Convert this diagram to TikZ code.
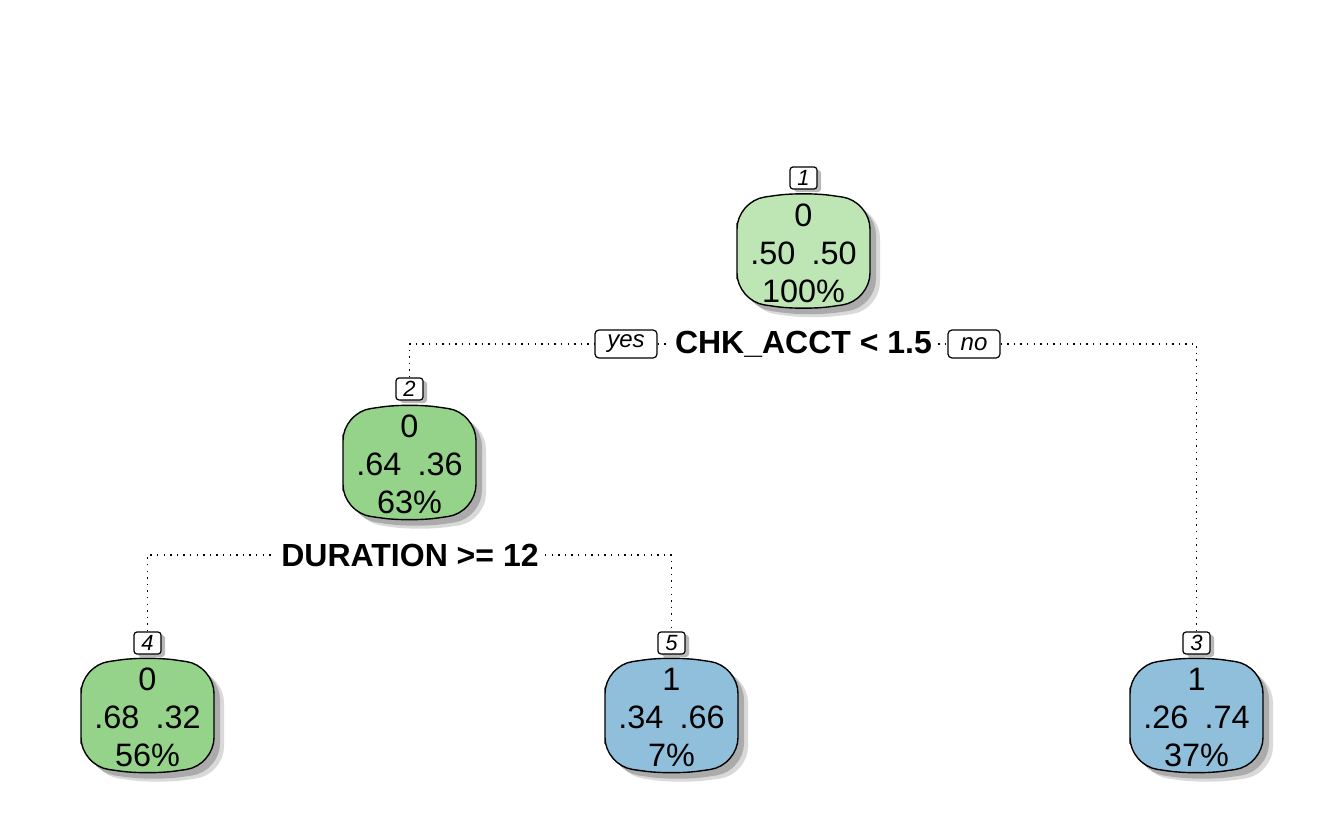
\documentclass[tikz,border=0pt]{standalone}
\usepackage{fontspec}
\setmainfont{Liberation Sans}
\usetikzlibrary{shadows}

\definecolor{rootgreen}{HTML}{BEE6B5}
\definecolor{leafgreen}{HTML}{94D389}
\definecolor{leafblue}{HTML}{90BFDB}

% outline of one tree box, centred at (0,0), in pixel units
\newcommand{\barrel}{(-66.5,0) -- (-66.5,-50) -- (0,-59.5) -- (66.5,-50) -- (66.5,50) -- (0,59.5) -- (-66.5,50) -- cycle}
\newcommand{\treebox}[3]{%
\begin{scope}[shift={(#1,#2)}]
\fill[black!15, shift={(10,9)}, rounded corners=14pt] \barrel;
\fill[black!33, shift={(6,6)}, rounded corners=14pt] \barrel;
\filldraw[fill=#3, draw=black, line width=0.7pt, rounded corners=14pt] \barrel;
\end{scope}}

\begin{document}
\begin{tikzpicture}[x=0.5pt, y=-0.5pt,
 every text node part/.style={align=center},
boxtext/.style={inner sep=0pt, font=\fontsize{16.2}{19}\selectfont},
numbox/.style={rectangle, draw=black, fill=white, rounded corners=1.5pt, inner sep=0pt, minimum width=13.5pt, minimum height=11pt, line width=0.6pt, font=\fontsize{11}{12}\selectfont\itshape, drop shadow={shadow xshift=2pt, shadow yshift=-1.5pt, fill=black!35, opacity=0.8}},
yesno/.style={rectangle, draw=black, fill=white, rounded corners=2pt, inner sep=0pt, minimum height=14pt, line width=0.6pt, font=\fontsize{12}{13}\selectfont\itshape},
split/.style={fill=white, inner sep=3pt, font=\fontsize{16}{18}\selectfont\bfseries},
edge/.style={dash pattern=on 0.7pt off 2.6pt, line width=0.7pt}]

\useasboundingbox (0,0) rectangle (1344,830);

% boxes
\treebox{803.5}{251}{rootgreen}
\treebox{409.5}{462.5}{leafgreen}
\treebox{147.5}{715.5}{leafgreen}
\treebox{671.5}{715.5}{leafblue}
\treebox{1196.5}{715.5}{leafblue}

\node[boxtext] (n1) at (803.5,253) {0\\.50\enspace.50\\100\%};
\node[boxtext] (n2) at (409.5,464.5) {0\\.64\enspace.36\\63\%};
\node[boxtext] (n4) at (147.5,717.5) {0\\.68\enspace.32\\56\%};
\node[boxtext] (n5) at (671.5,717.5) {1\\.34\enspace.66\\7\%};
\node[boxtext] (n3) at (1196.5,717.5) {1\\.26\enspace.74\\37\%};

\node[numbox] (l1) at (803.5,178) {1};
\node[numbox] (l2) at (409.5,389) {2};
\node[numbox] (l4) at (147.5,643) {4};
\node[numbox] (l5) at (671.5,643) {5};
\node[numbox] (l3) at (1196.5,643) {3};

% splits
\node[split] (s1) at (803.5,344) {CHK\_ACCT < 1.5};
\node[yesno, minimum width=31pt] (yes) at (626,344) {yes};
\node[yesno, minimum width=26pt] (no) at (974,344) {no};
\node[split] (s2) at (410,555) {DURATION >= 12};

\draw[edge] (l2.north) |- (yes.west);
\draw[edge] (yes.east) -- (s1.west);
\draw[edge] (s1.east) -- (no.west);
\draw[edge] (no.east) -| (l3.north);

\draw[edge] (l4.north) |- (s2.west);
\draw[edge] (s2.east) -| (l5.north);

\end{tikzpicture}
\end{document}
